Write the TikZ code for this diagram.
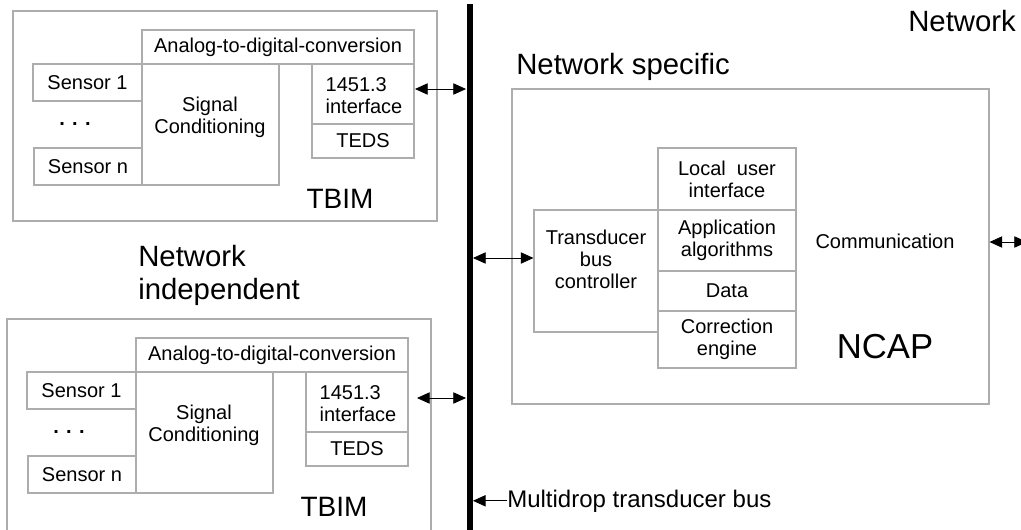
\documentclass[tikz,border=0pt]{standalone}
\usepackage{fontspec}
\setmainfont{Liberation Sans}
\usetikzlibrary{arrows.meta}
\definecolor{boxgrey}{rgb}{0.68,0.68,0.68}
% box from (x1,y1) to (x2,y2) in pixels
\newcommand{\blk}[6]{\node[box, minimum width={(#4-#2)*0.75pt}, minimum height={(#5-#3)*0.75pt}] (#1) at ({(#2+#4)/2},{(#3+#5)/2}) {#6};}
% one TBIM: prefix, x shift, y shift, bottom of frame
\newcommand{\tbimblock}[4]{%
  \begin{scope}[shift={(#2,#3)}]
    \blk{#1out}{13}{11}{437}{#4}{}
    \blk{#1adc}{142}{30}{414}{64}{Analog-to-digital-conversion}
    \blk{#1sig}{142}{64}{279}{185}{}
    \node[lbl] (#1sigtxt) at (210,117) {Signal\\Conditioning};
    \blk{#1sa}{33}{64}{142}{101}{Sensor 1}
    \blk{#1sn}{34}{148}{142}{185}{Sensor n}
    \node[lbl] (#1dots) at (75,124) {\bfseries . . .};
    \blk{#1if}{312}{64}{414}{124}{}
    \node[lbl, align=left] (#1iftxt) at (364,96) {1451.3\\interface};
    \blk{#1teds}{312}{124}{414}{158}{TEDS}
    \node[inner sep=0pt, font=\fontsize{21}{24}\selectfont] (#1name) at (340,199) {TBIM};
  \end{scope}}

\begin{document}
\begin{tikzpicture}[x=0.75pt, y=-0.75pt]
  \tikzstyle{box}=[draw=boxgrey, line width=0.8pt, inner sep=0pt, align=center, font=\fontsize{15}{16.5}\selectfont]
  \tikzstyle{lbl}=[inner sep=0pt, align=center, font=\fontsize{15}{16.5}\selectfont]
  \tikzstyle{big}=[inner sep=0pt, align=left, font=\fontsize{22}{24.75}\selectfont]
  \tikzstyle{link}=[line width=0.6pt, >={Triangle[length=9.5pt,width=8.5pt]}, <->]

  % Canvas
  \useasboundingbox (0,0) rectangle (1021,529);
  \clip (0,0) rectangle (1021,529);

  % Multidrop transducer bus
  \coordinate (bustop) at (469.5,4);
  \coordinate (busbot) at (469.5,535);
  \draw[line width=4.5pt] (bustop) -- (busbot);

  % The two TBIMs
  \tbimblock{tA}{0}{0}{221}
  \tbimblock{tB}{-6}{308}{240}

  % NCAP
  \blk{ncap}{512}{89}{989}{404}{}
  \blk{tbc}{534}{210}{658}{332}{}
  \node[lbl] (tbctxt) at (596,259) {Transducer\\bus\\controller};
  \blk{lui}{658}{148}{796}{210}{Local\ \ user\\interface}
  \blk{app}{658}{210}{796}{271}{Application\\algorithms}
  \blk{data}{658}{271}{796}{311}{Data}
  \blk{corr}{658}{311}{796}{368}{Correction\\engine}
  \node[lbl] (comm) at (885,241) {Communication};
  \node[inner sep=0pt, font=\fontsize{26}{28}\selectfont] (ncapname) at (885,347) {NCAP};

  % Headings
  \node[big, anchor=base west] (netw) at (908,31) {Network};
  \node[big, anchor=base west] (netspec) at (516,74) {Network specific};
  \node[big, anchor=north west] (netind) at (138,245) {Network\\independent};
  \node[inner sep=0pt, anchor=base west, font=\fontsize{18}{20}\selectfont] (mdb) at (507,507) {Multidrop transducer bus};

  % Connections to the bus
  \coordinate (busA) at (466,89);
  \coordinate (tAout) at (415,89);
  \draw[link] (tAout) -- (busA);
  \coordinate (busB) at (466,398);
  \coordinate (tBout) at (417,398);
  \draw[link] (tBout) -- (busB);
  \coordinate (busC) at (473,258);
  \draw[link] (busC) -- (busC -| tbc.west);
  \coordinate (netout) at (1027,242);
  \draw[link] (netout -| ncap.east) -- (netout);
  \draw[link, ->, shorten >=2.6pt] (mdb.west) -- (mdb.west -| bustop);
\end{tikzpicture}
\end{document}
